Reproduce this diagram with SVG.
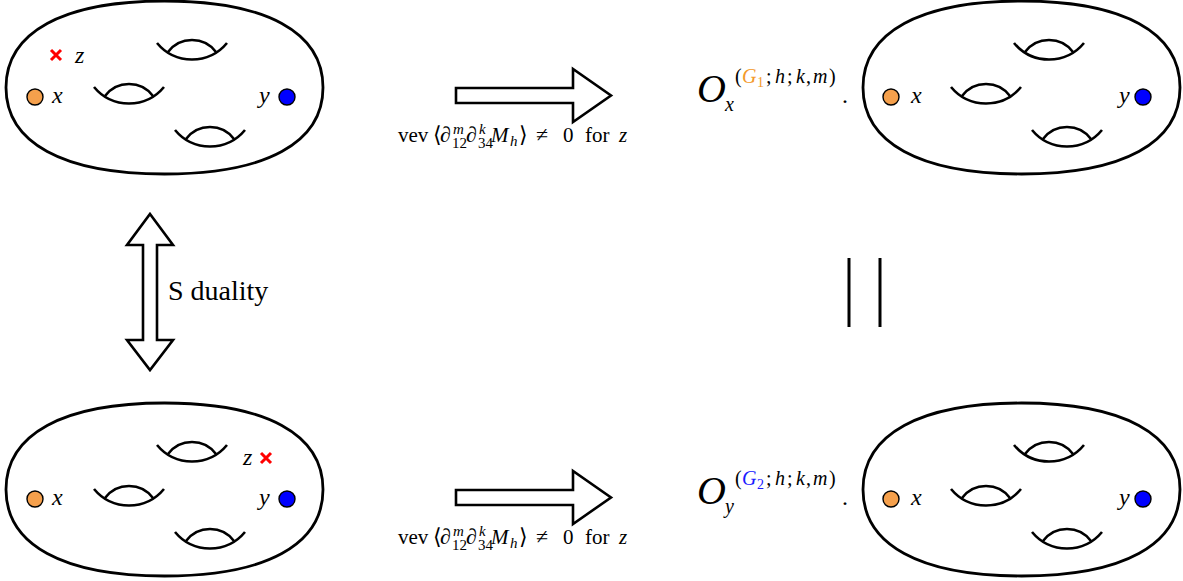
<svg xmlns="http://www.w3.org/2000/svg" xmlns:xlink="http://www.w3.org/1999/xlink" width="1183" height="581" viewBox="0 0 1183 581">
<style>
.outline{fill:none;stroke:#000;stroke-width:2.8}
.handle{fill:none;stroke:#000;stroke-width:2.6;stroke-linecap:butt}
.blk{fill:#fff;stroke:#000;stroke-width:2.6;stroke-linejoin:miter}
.eq{stroke:#000;stroke-width:3}
.cross{stroke:#ff0000;stroke-width:3}
.ptx{fill:#f5a04c;stroke:#000;stroke-width:1.4}
.pty{fill:#0000ff;stroke:#000;stroke-width:1.4}
.rm{font-family:'Liberation Serif','DejaVu Serif',serif;fill:#000}
.it{font-family:'Liberation Serif','DejaVu Serif',serif;font-style:italic;fill:#000}
.lbl{font-size:24px}
.or{fill:#f39a2b}
.bl{fill:#1a1aff}
.sup{font-size:20px}
</style>
<defs>
<g id="handle">
<path class="handle" d="M0,0 A45.4,45.4 0 0 0 70,0"/>
<path class="handle" d="M11,9 A30,30 0 0 1 59,9"/>
</g>
<path id="surf" class="outline" d="M6,87.5 C6,32.1 63,1 164.5,1 C266,1 323,32.1 323,87.5 C323,142.9 266,174 164.5,174 C63,174 6,142.9 6,87.5 Z"/>
</defs>

<g id="surface-top-left">
<use xlink:href="#surf"/>
<use xlink:href="#handle" x="157" y="43"/>
<use xlink:href="#handle" x="94" y="87"/>
<use xlink:href="#handle" x="175" y="130"/>
<circle class="ptx" cx="35" cy="97" r="8"/>
<text class="it lbl" x="52" y="103">x</text>
<text class="it lbl" x="259" y="103">y</text>
<circle class="pty" cx="287" cy="97" r="8"/>
<path class="cross" d="M51,50 L61,60 M51,60 L61,50"/>
<text class="it lbl" x="75" y="63">z</text>
</g>

<g id="surface-bottom-left" transform="translate(0,402)">
<use xlink:href="#surf"/>
<use xlink:href="#handle" x="157" y="43"/>
<use xlink:href="#handle" x="94" y="87"/>
<use xlink:href="#handle" x="175" y="130"/>
<circle class="ptx" cx="35" cy="97" r="8"/>
<text class="it lbl" x="52" y="103">x</text>
<text class="it lbl" x="259" y="103">y</text>
<circle class="pty" cx="287" cy="97" r="8"/>
<path class="cross" d="M261,51 L271,61 M261,61 L271,51"/>
<text class="it lbl" x="243" y="63">z</text>
</g>

<g id="surface-top-right" transform="translate(857,0)">
<use xlink:href="#surf"/>
<use xlink:href="#handle" x="157" y="43"/>
<use xlink:href="#handle" x="94" y="87"/>
<use xlink:href="#handle" x="175" y="130"/>
<circle class="ptx" cx="34" cy="97" r="8"/>
<text class="it lbl" x="54" y="103">x</text>
<text class="it lbl" x="262" y="103">y</text>
<circle class="pty" cx="286" cy="97" r="8"/>
</g>

<g id="surface-bottom-right" transform="translate(857,402)">
<use xlink:href="#surf"/>
<use xlink:href="#handle" x="157" y="43"/>
<use xlink:href="#handle" x="94" y="87"/>
<use xlink:href="#handle" x="175" y="130"/>
<circle class="ptx" cx="34" cy="97" r="8"/>
<text class="it lbl" x="54" y="103">x</text>
<text class="it lbl" x="262" y="103">y</text>
<circle class="pty" cx="286" cy="97" r="8"/>
</g>

<g id="formula-top">
<text class="it" x="697" y="102" font-size="40">O</text>
<text class="it" x="725" y="111" font-size="20">x</text>
<text class="rm sup" x="735" y="83">(</text>
<text class="it or sup" x="742" y="83">G</text>
<text class="rm or" x="757" y="87" font-size="14">1</text>
<text class="rm sup" x="766" y="83">;</text>
<text class="it sup" x="775" y="83">h</text>
<text class="rm sup" x="787" y="83">;</text>
<text class="it sup" x="796" y="83">k</text>
<text class="rm sup" x="806" y="83">,</text>
<text class="it sup" x="813" y="83">m</text>
<text class="rm sup" x="829" y="83">)</text>
<text class="rm" x="842" y="103" font-size="24">.</text>
</g>

<g id="formula-bottom" transform="translate(0,402)">
<text class="it" x="697" y="102" font-size="40">O</text>
<text class="it" x="725" y="111" font-size="20">y</text>
<text class="rm sup" x="735" y="83">(</text>
<text class="it bl sup" x="742" y="83">G</text>
<text class="rm bl" x="757" y="87" font-size="14">2</text>
<text class="rm sup" x="766" y="83">;</text>
<text class="it sup" x="775" y="83">h</text>
<text class="rm sup" x="787" y="83">;</text>
<text class="it sup" x="796" y="83">k</text>
<text class="rm sup" x="806" y="83">,</text>
<text class="it sup" x="813" y="83">m</text>
<text class="rm sup" x="829" y="83">)</text>
<text class="rm" x="842" y="103" font-size="24">.</text>
</g>

<g id="connectors">
<g id="arrow-top">
<polygon class="blk" points="456,88 573,88 573,69 611,95.5 573,122 573,103 456,103"/>
<g id="label-top">
<text class="rm" x="398" y="142" font-size="21">vev</text>
<text class="rm" x="433" y="142" font-size="22">⟨</text>
<text class="it" x="440" y="142" font-size="22">∂</text>
<text class="it" x="453" y="134" font-size="15">m</text>
<text class="rm" x="452" y="148" font-size="15">12</text>
<text class="it" x="466" y="142" font-size="22">∂</text>
<text class="it" x="479" y="134" font-size="15">k</text>
<text class="rm" x="478" y="148" font-size="15">34</text>
<text class="it" x="491" y="142" font-size="21">M</text>
<text class="it" x="510" y="146" font-size="15">h</text>
<text class="rm" x="519" y="142" font-size="22">⟩</text>
<text class="rm" x="536" y="142" font-size="22">≠</text>
<text class="rm" x="563" y="142" font-size="21">0</text>
<text class="rm" x="585" y="142" font-size="21">for</text>
<text class="it" x="619" y="142" font-size="21">z</text>
</g>
</g>
<g id="arrow-bottom" transform="translate(0,402)">
<polygon class="blk" points="456,88 573,88 573,69 611,95.5 573,122 573,103 456,103"/>
<g id="label-bottom">
<text class="rm" x="398" y="142" font-size="21">vev</text>
<text class="rm" x="433" y="142" font-size="22">⟨</text>
<text class="it" x="440" y="142" font-size="22">∂</text>
<text class="it" x="453" y="134" font-size="15">m</text>
<text class="rm" x="452" y="148" font-size="15">12</text>
<text class="it" x="466" y="142" font-size="22">∂</text>
<text class="it" x="479" y="134" font-size="15">k</text>
<text class="rm" x="478" y="148" font-size="15">34</text>
<text class="it" x="491" y="142" font-size="21">M</text>
<text class="it" x="510" y="146" font-size="15">h</text>
<text class="rm" x="519" y="142" font-size="22">⟩</text>
<text class="rm" x="536" y="142" font-size="22">≠</text>
<text class="rm" x="563" y="142" font-size="21">0</text>
<text class="rm" x="585" y="142" font-size="21">for</text>
<text class="it" x="619" y="142" font-size="21">z</text>
</g>
</g>
<g id="arrow-s-duality">
<polygon class="blk" points="150,214 173,245 157,245 157,340 173,340 150,370 127,340 143,340 143,245 127,245"/>
<text class="rm" x="168" y="300" font-size="28">S duality</text>
</g>
<g id="equals">
<line class="eq" x1="849" y1="258" x2="849" y2="327"/>
<line class="eq" x1="880" y1="258" x2="880" y2="327"/>
</g>
</g>
</svg>
